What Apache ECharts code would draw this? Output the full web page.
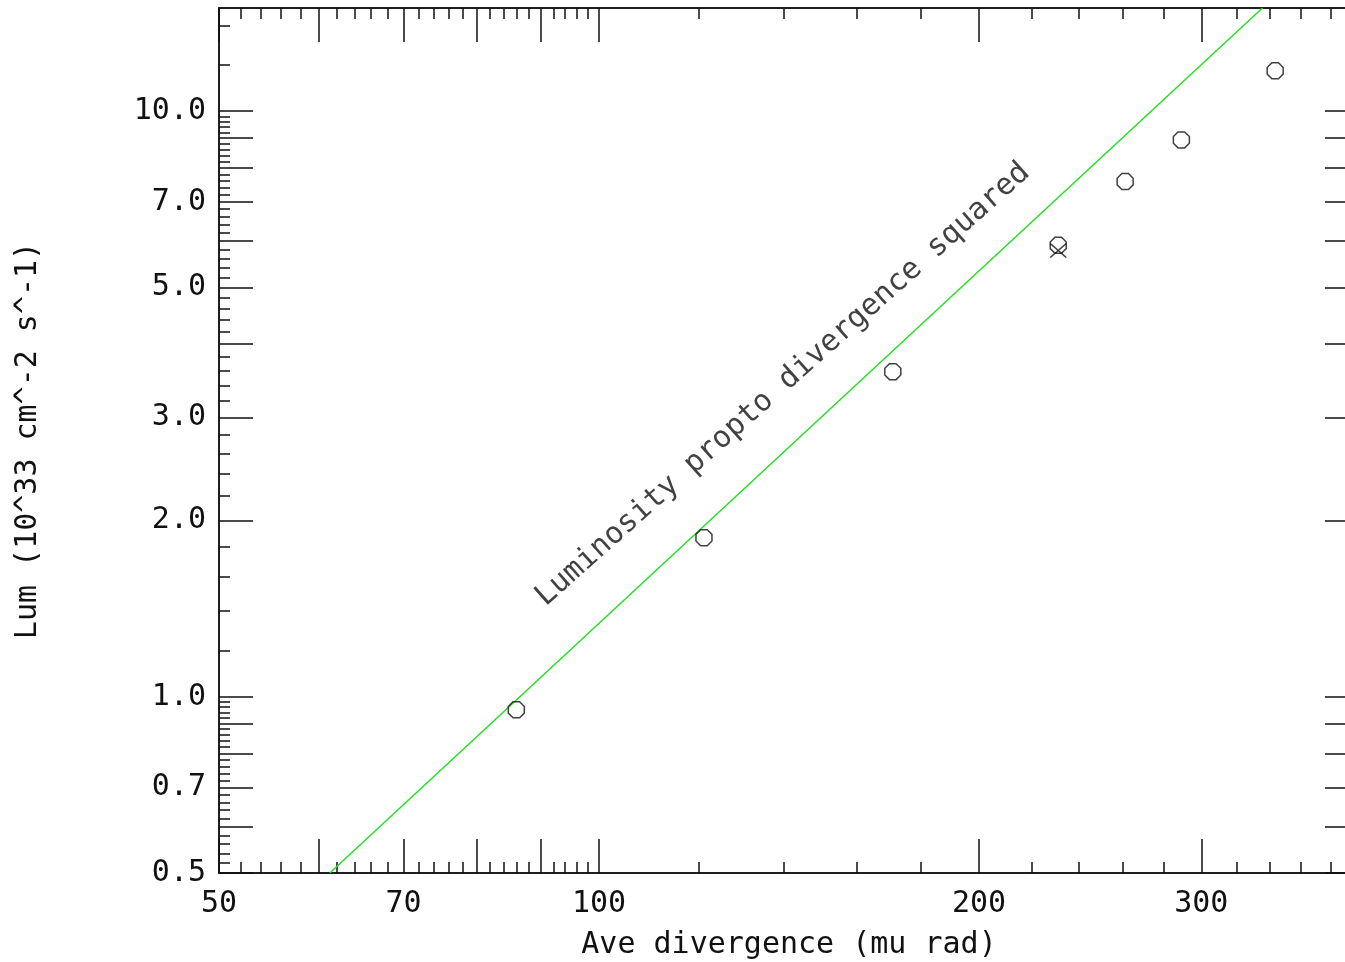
<!DOCTYPE html>
<html><head><meta charset="utf-8">
<script src="https://cdn.jsdelivr.net/npm/echarts@6/dist/echarts.min.js"></script>
<style>html,body{margin:0;padding:0;background:#fff}#c{width:1345px;height:962px}</style>
</head><body><div id="c"></div>
<script>
// ---- data ----
const divergence = [86.0, 121.1, 170.9, 231.1, 261.1, 289.3, 343.3];
const luminosity = [0.950, 1.869, 3.59, 5.90, 7.58, 8.93, 11.72];
const crossDivergence = [231.1];
const crossLuminosity = [5.78];
const fitDivergence = [61.2, 335.4];
const fitLuminosity = [0.5, 15];
const annotationText = 'Luminosity propto divergence squared';
const annotationPos = [139.9, 3.41];

// ---- axes ----
const X_MIN = 50, X_MAX = 400, Y_MIN = 0.5, Y_MAX = 15;
const xTickLabels = [50, 70, 100, 200, 300];
const xMajorTicks = [50, 60, 70, 80, 90, 100, 200, 300, 400];
const xMinorTicks = [52, 54, 56, 58, 62, 64, 66, 68, 72, 74, 76, 78, 82, 84, 86, 88, 92, 94, 96, 98,
  120, 140, 160, 180, 220, 240, 260, 280, 320, 340, 360, 380];
const yTickLabels = [0.5, 0.7, 1.0, 2.0, 3.0, 5.0, 7.0, 10.0];
const yMajorTicks = [0.5, 0.6, 0.7, 0.8, 0.9, 1, 2, 3, 4, 5, 6, 7, 8, 9, 10];
const yMinorTicks = [0.52, 0.54, 0.56, 0.58, 0.62, 0.64, 0.66, 0.68, 0.72, 0.74, 0.76, 0.78,
  0.82, 0.84, 0.86, 0.88, 0.92, 0.94, 0.96, 0.98, 1.2, 1.4, 1.6, 1.8, 2.2, 2.4, 2.6, 2.8,
  3.2, 3.4, 3.6, 3.8, 4.2, 4.4, 4.6, 4.8, 5.2, 5.4, 5.6, 5.8, 6.2, 6.4, 6.6, 6.8,
  7.2, 7.4, 7.6, 7.8, 8.2, 8.4, 8.6, 8.8, 9.2, 9.4, 9.6, 9.8, 12, 14];

const FONT = 'DejaVu Sans Mono';
const INK = '#111111';
const lineStyle = {color: INK, width: 1.5};
const MAJOR_LEN = 34, MINOR_LEN = 11;

function axisDef(dim, position, ticks, len, labels, name) {
  const isX = dim === 'x';
  const a = {
    type: 'log', logBase: 10,
    min: isX ? X_MIN : Y_MIN, max: isX ? X_MAX : Y_MAX,
    position: position,
    axisLine: {show: true, onZero: false, lineStyle: lineStyle},
    axisTick: {show: true, inside: true, length: len, customValues: ticks, lineStyle: lineStyle},
    axisLabel: {show: false},
    splitLine: {show: false},
    minorTick: {show: false},
    minorSplitLine: {show: false},
    axisPointer: {show: false}
  };
  if (labels) {
    a.axisLabel = {
      show: true, customValues: labels, fontFamily: FONT, fontSize: 30, color: INK,
      margin: isX ? 16 : 13,
      formatter: isX ? (v => String(Math.round(v))) : (v => Number(v).toFixed(1))
    };
  }
  if (name) {
    a.name = name;
    a.nameLocation = 'middle';
    a.nameGap = isX ? 57 : 176;
    a.nameTextStyle = {fontFamily: FONT, fontSize: 30, color: INK};
  }
  return a;
}

const chart = echarts.init(document.getElementById('c'), null, {renderer: 'canvas'});
chart.setOption({
  backgroundColor: '#ffffff',
  animation: false,
  grid: {left: 219, right: -14, top: 8, bottom: 89, containLabel: false, outerBoundsMode: 'none'},
  xAxis: [
    axisDef('x', 'bottom', xMajorTicks, MAJOR_LEN, xTickLabels, 'Ave divergence (mu rad)'),
    axisDef('x', 'bottom', xMinorTicks, MINOR_LEN),
    axisDef('x', 'top', xMajorTicks, MAJOR_LEN),
    axisDef('x', 'top', xMinorTicks, MINOR_LEN)
  ],
  yAxis: [
    axisDef('y', 'left', yMajorTicks, MAJOR_LEN, yTickLabels, 'Lum (10^33 cm^-2 s^-1)'),
    axisDef('y', 'left', yMinorTicks, MINOR_LEN),
    axisDef('y', 'right', yMajorTicks, MAJOR_LEN),
    axisDef('y', 'right', yMinorTicks, MINOR_LEN)
  ],
  series: [
    {
      type: 'line', xAxisIndex: 0, yAxisIndex: 0,
      data: fitDivergence.map((x, i) => [x, fitLuminosity[i]]),
      symbol: 'none', lineStyle: {color: '#22e022', width: 1.5}, silent: true, z: 2
    },
    {
      type: 'scatter', xAxisIndex: 0, yAxisIndex: 0,
      data: divergence.map((x, i) => [x, luminosity[i]]),
      symbol: 'path://M2.93 0 L7.07 0 L10 2.93 L10 7.07 L7.07 10 L2.93 10 L0 7.07 L0 2.93 Z',
      symbolSize: 16,
      itemStyle: {color: 'rgba(0,0,0,0)', borderColor: INK, borderWidth: 1.5},
      silent: true, z: 3
    },
    {
      type: 'scatter', xAxisIndex: 0, yAxisIndex: 0,
      data: crossDivergence.map((x, i) => [x, crossLuminosity[i]]),
      symbol: 'path://M0 0 L10 10 M10 0 L0 10',
      symbolSize: [16, 14],
      itemStyle: {color: 'rgba(0,0,0,0)', borderColor: INK, borderWidth: 1.5},
      silent: true, z: 3
    },
    {
      type: 'scatter', xAxisIndex: 0, yAxisIndex: 0,
      data: [annotationPos],
      symbolSize: 1, itemStyle: {color: 'rgba(0,0,0,0)'},
      label: {
        show: true, position: 'inside', formatter: annotationText, rotate: 41.7,
        fontFamily: FONT, fontSize: 30, color: INK, align: 'center', verticalAlign: 'middle'
      },
      silent: true, z: 4
    }
  ]
});
</script></body></html>
